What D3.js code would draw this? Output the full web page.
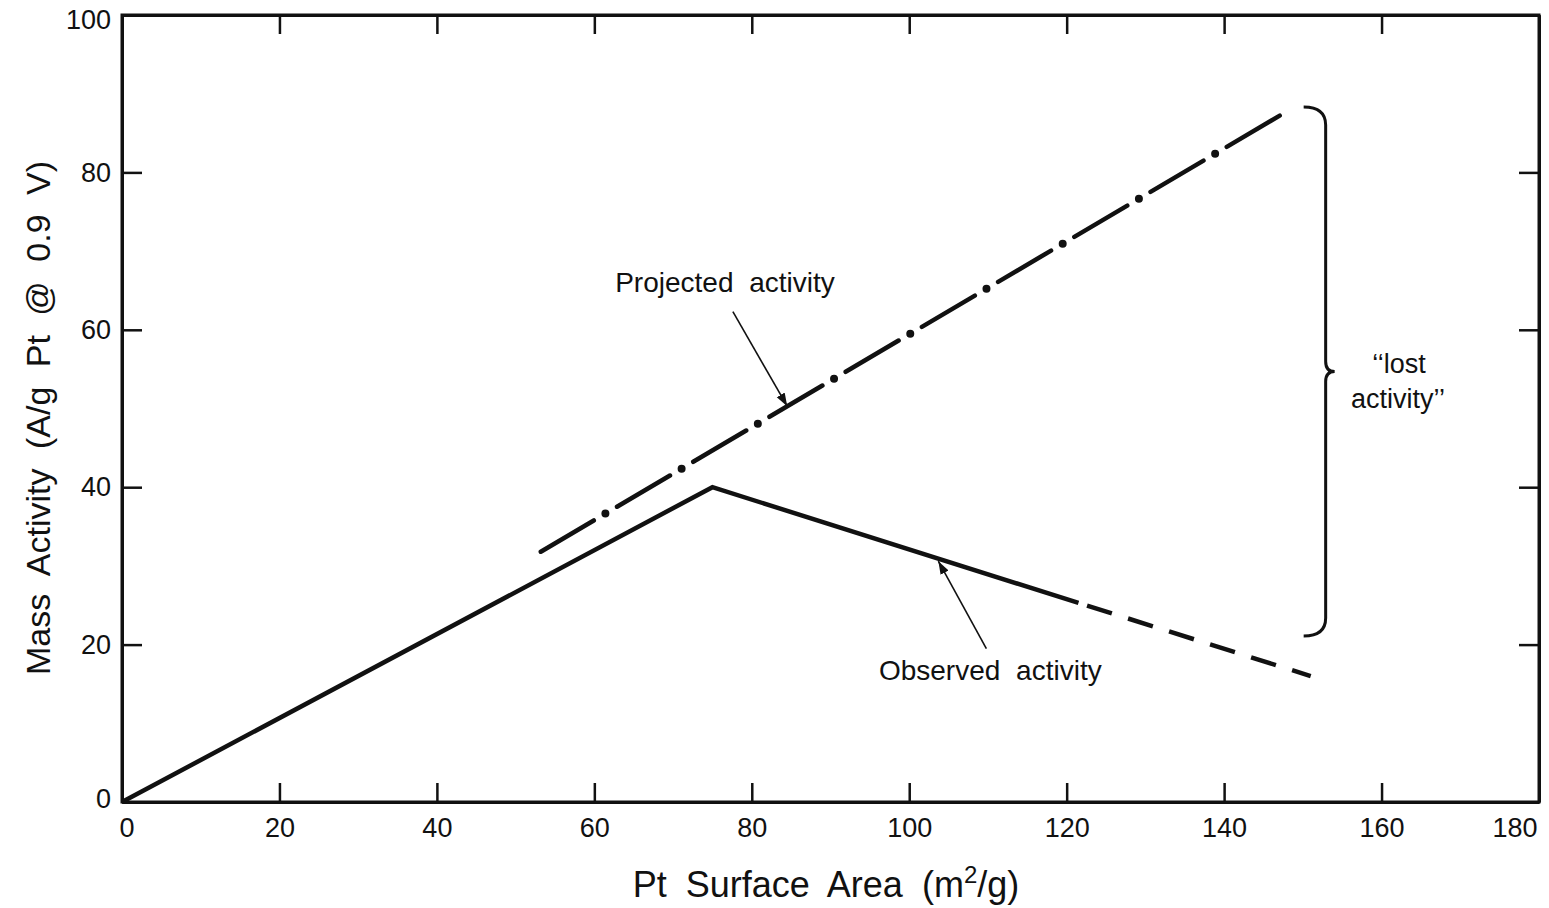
<!DOCTYPE html>
<html>
<head>
<style>
body { margin: 0; background: #fff; }
text { font-family: "Liberation Sans", Arial, sans-serif; fill: #111; }
.axis path, .axis line { stroke: #111; }
.axis .tick text { font-size: 27px; }
</style>
</head>
<body>
<script src="https://cdnjs.cloudflare.com/ajax/libs/d3/7.8.5/d3.min.js"></script>
<script>
// values
var xTicks = [0, 20, 40, 60, 80, 100, 120, 140, 160, 180];
var yTicks = [0, 20, 40, 60, 80, 100];
var observedSolid = [[0, 0], [75, 40], [121.5, 25.3]];
var observedDashed = [[121.5, 25.3], [151, 16]];
var projected = [[53.2, 31.8], [148.4, 88]];
var braceRange = [152.9, 21.1, 88.3]; // x, yLow, yHigh
var labels = [
  {text: "Projected activity", x: 76.6, y: 64.8, ax: [77.6, 62.3], at: [84.5, 50.3]},
  {text: "Observed activity", x: 110.3, y: 15.5, ax: [109.8, 19.5], at: [103.7, 30.6]}
];

var W = 1549, H = 908;

var svg = d3.select("body").append("svg")
    .attr("width", W)
    .attr("height", H);

var x = d3.scaleLinear().domain([0, 180]).range([122, 1539]);
var y = d3.scaleLinear().domain([0, 100]).range([802, 15]);

// frame with inward ticks on all four sides
var xAxisG = svg.append("g").attr("class", "axis")
    .attr("transform", "translate(0," + y(0) + ")")
    .call(d3.axisBottom(x).tickValues(xTicks).tickSizeInner(-19).tickSizeOuter(0).tickPadding(28));
xAxisG.selectAll("text").attr("dy", "0.25em")
    .attr("text-anchor", function(d) { return d === 0 ? "start" : d === 180 ? "end" : "middle"; })
    .attr("dx", function(d) { return d === 0 ? -3 : d === 180 ? -2 : 0; });

svg.append("g").attr("class", "axis")
    .attr("transform", "translate(0," + y(100) + ")")
    .call(d3.axisTop(x).tickValues(xTicks).tickSizeInner(-19).tickSizeOuter(0).tickFormat(""));
var yAxisG = svg.append("g").attr("class", "axis")
    .attr("transform", "translate(" + x(0) + ",0)")
    .call(d3.axisLeft(y).tickValues(yTicks).tickSizeInner(-20).tickSizeOuter(0).tickPadding(11));
yAxisG.selectAll("text").attr("dy", function(d) { return d === 0 ? "0.2em" : d === 100 ? "0.5em" : "0.32em"; });
svg.append("g").attr("class", "axis")
    .attr("transform", "translate(" + x(180) + ",0)")
    .call(d3.axisRight(y).tickValues(yTicks).tickSizeInner(-20).tickSizeOuter(0).tickFormat(""));

svg.selectAll(".axis line").attr("stroke-width", 2.5);
svg.selectAll(".axis path").attr("stroke-width", 3);

svg.append("rect")
    .attr("x", x(0)).attr("y", y(100))
    .attr("width", x(180) - x(0)).attr("height", y(0) - y(100))
    .attr("fill", "none").attr("stroke", "#111").attr("stroke-width", 3);

var line = d3.line().x(function(d) { return x(d[0]); }).y(function(d) { return y(d[1]); });

svg.append("path").datum(observedSolid)
    .attr("d", line).attr("fill", "none")
    .attr("stroke", "#111").attr("stroke-width", 4.5).attr("stroke-linejoin", "miter");

svg.append("path").datum(observedDashed)
    .attr("d", line).attr("fill", "none")
    .attr("stroke", "#111").attr("stroke-width", 4.5)
    .attr("stroke-dasharray", "0,9,26,8");

// projected: long dashes plus round dots
svg.append("path").datum(projected)
    .attr("d", line).attr("fill", "none")
    .attr("stroke", "#111").attr("stroke-width", 4.5).attr("stroke-linecap", "round")
    .attr("stroke-dasharray", "61.5,27");
svg.append("path").datum(projected)
    .attr("d", line).attr("fill", "none")
    .attr("stroke", "#111").attr("stroke-width", 8).attr("stroke-linecap", "round")
    .attr("stroke-dasharray", "0,88.5").attr("stroke-dashoffset", -75);

// brace
var bx = x(braceRange[0]), b0 = y(braceRange[2]), b1 = y(braceRange[1]);
var bm = (b0 + b1) / 2;
var r = 10;
svg.append("path")
    .attr("d", "M" + (bx - 22) + "," + b0 +
        " Q" + bx + "," + b0 + " " + bx + "," + (b0 + r + 8) +
        " L" + bx + "," + (bm - r) +
        " Q" + bx + "," + bm + " " + (bx + 9) + "," + bm +
        " Q" + bx + "," + bm + " " + bx + "," + (bm + r) +
        " L" + bx + "," + (b1 - r - 8) +
        " Q" + bx + "," + b1 + " " + (bx - 22) + "," + b1)
    .attr("fill", "none").attr("stroke", "#111").attr("stroke-width", 3);

svg.append("text").attr("x", 1399).attr("y", 373).attr("text-anchor", "middle")
    .style("font-size", "27px").text("\u2018\u2018lost");
svg.append("text").attr("x", 1398).attr("y", 408).attr("text-anchor", "middle")
    .style("font-size", "27px").text("activity\u2019\u2019");

// labels with arrows
svg.append("defs").append("marker")
    .attr("id", "arr").attr("viewBox", "0 0 10 10")
    .attr("refX", 10).attr("refY", 5)
    .attr("markerWidth", 13).attr("markerHeight", 13)
    .attr("markerUnits", "userSpaceOnUse")
    .attr("orient", "auto")
  .append("path").attr("d", "M0,1.5 L10,5 L0,8.5 Z").attr("fill", "#111");

labels.forEach(function(l) {
  svg.append("text").attr("x", x(l.x)).attr("y", y(l.y)).attr("text-anchor", "middle")
      .style("font-size", "28px").style("word-spacing", "8px").text(l.text);
  svg.append("line")
      .attr("x1", x(l.ax[0])).attr("y1", y(l.ax[1]))
      .attr("x2", x(l.at[0])).attr("y2", y(l.at[1]))
      .attr("stroke", "#111").attr("stroke-width", 1.6)
      .attr("marker-end", "url(#arr)");
});

// axis titles
svg.append("text").attr("x", 826).attr("y", 897).attr("text-anchor", "middle")
    .style("font-size", "36px").style("word-spacing", "9px")
    .html("Pt Surface Area (m<tspan dy='-14' font-size='24px'>2</tspan><tspan dy='14'>/g)</tspan>");

svg.append("text")
    .attr("transform", "translate(50,418) rotate(-90)")
    .attr("text-anchor", "middle")
    .style("font-size", "34px").style("word-spacing", "10px")
    .text("Mass Activity (A/g Pt @ 0.9 V)");
</script>
</body>
</html>
